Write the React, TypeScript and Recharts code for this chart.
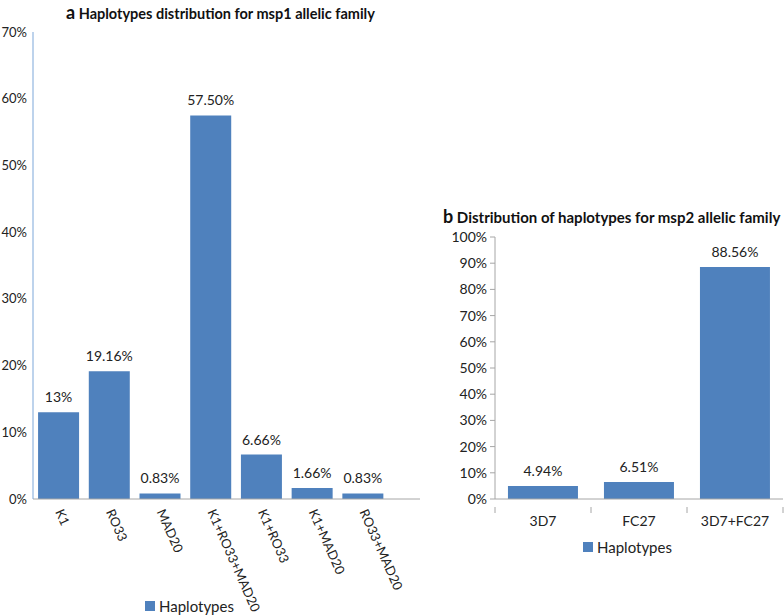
import { BarChart, Bar, XAxis, YAxis, LabelList } from 'recharts'

const msp1Families = ['K1', 'RO33', 'MAD20', 'K1+RO33+MAD20', 'K1+RO33', 'K1+MAD20', 'RO33+MAD20']
const msp1Values = [13, 19.16, 0.83, 57.5, 6.66, 1.66, 0.83]
const msp1Labels = ['13%', '19.16%', '0.83%', '57.50%', '6.66%', '1.66%', '0.83%']
const msp1Ticks = [0, 10, 20, 30, 40, 50, 60, 70]

const msp2Families = ['3D7', 'FC27', '3D7+FC27']
const msp2Values = [4.94, 6.51, 88.56]
const msp2Labels = ['4.94%', '6.51%', '88.56%']
const msp2Ticks = [0, 10, 20, 30, 40, 50, 60, 70, 80, 90, 100]

const seriesName = 'Haplotypes'
const BLUE = '#4F81BD'
const FONT = 'Lato, "Open Sans", sans-serif'

const msp1Data = msp1Families.map((f, i) => ({ family: f, value: msp1Values[i], label: msp1Labels[i] }))
const msp2Data = msp2Families.map((f, i) => ({ family: f, value: msp2Values[i], label: msp2Labels[i] }))

function RotatedTick({ x, y, payload }: any) {
  return (
    <text x={x} y={y} transform={`rotate(66, ${x}, ${y})`} textAnchor="start" dominantBaseline="central"
      fontSize={13} fill="#222" fontFamily={FONT} dx={3}>
      {payload.value}
    </text>
  )
}

function BoundaryTick({ x, y, payload, index, visibleTicksCount }: any) {
  const half = payload.offset ?? 48
  const last = index === visibleTicksCount - 1
  return (
    <g>
      <line x1={x - half} x2={x - half} y1={y} y2={y + 6} stroke="#a6a6a6" />
      {last && <line x1={x + half} x2={x + half} y1={y} y2={y + 6} stroke="#a6a6a6" />}
      <text x={x} y={y + 19} textAnchor="middle" fontSize={14} fill="#222" fontFamily={FONT}>
        {payload.value}
      </text>
    </g>
  )
}

function LegendBox({ left, top }: { left: number; top: number }) {
  return (
    <div style={{ position: 'absolute', left, top, display: 'flex', alignItems: 'center', fontFamily: FONT, fontSize: 15, color: '#222' }}>
      <span style={{ display: 'inline-block', width: 10, height: 10, background: BLUE, marginRight: 4 }} />
      {seriesName}
    </div>
  )
}

const pct = (v: number) => `${v}%`

export default function App() {
  return (
    <div style={{ position: 'absolute', left: 0, top: 0, width: 784, height: 616, background: '#fff', fontFamily: FONT }}>
      <div style={{ position: 'absolute', left: 66, top: 1, fontWeight: 700, fontSize: 14.5, color: '#111', whiteSpace: 'nowrap' }}>
        <span style={{ fontSize: 18 }}>a</span> Haplotypes distribution for msp1 allelic family
      </div>
      <div style={{ position: 'absolute', left: 443, top: 205, fontWeight: 700, fontSize: 15, color: '#111', whiteSpace: 'nowrap' }}>
        <span style={{ fontSize: 18 }}>b</span> Distribution of haplotypes for msp2 allelic family
      </div>

      <div style={{ position: 'absolute', left: 0, top: 0 }}>
        <BarChart width={420} height={616} data={msp1Data} barCategoryGap="10%"
          margin={{ top: 32, right: 0, bottom: 0, left: 0 }}>
          <XAxis dataKey="family" interval={0} tickLine={false} axisLine={{ stroke: '#a6a6a6' }}
            tick={<RotatedTick />} padding={{ left: 0, right: 32 }} height={117} />
          <YAxis domain={[0, 70]} ticks={msp1Ticks} tickFormatter={pct} width={33} tickLine={false}
            tickSize={5} tickMargin={1} axisLine={{ stroke: '#7DA7D9' }}
            tick={{ fontSize: 13, fill: '#222', fontFamily: FONT }} />
          <Bar dataKey="value" name={seriesName} fill={BLUE} isAnimationActive={false}>
            <LabelList dataKey="label" position="top" offset={10} fontSize={14} fill="#222" fontFamily={FONT} />
          </Bar>
        </BarChart>
      </div>
      <LegendBox left={145} top={597} />

      <div style={{ position: 'absolute', left: 440, top: 0 }}>
        <BarChart width={344} height={616} data={msp2Data} barCategoryGap="13.5%"
          margin={{ top: 237, right: 1, bottom: 0, left: 0 }}>
          <XAxis dataKey="family" interval={0} tickLine={false} axisLine={{ stroke: '#a6a6a6' }}
            tick={<BoundaryTick />} height={117} />
          <YAxis domain={[0, 100]} ticks={msp2Ticks} tickFormatter={pct} width={55}
            tickSize={5} tickMargin={3} axisLine={{ stroke: '#a6a6a6' }} tickLine={{ stroke: '#a6a6a6' }}
            tick={{ fontSize: 14, fill: '#222', fontFamily: FONT }} />
          <Bar dataKey="value" name={seriesName} fill={BLUE} isAnimationActive={false}>
            <LabelList dataKey="label" position="top" offset={10} fontSize={14} fill="#222" fontFamily={FONT} />
          </Bar>
        </BarChart>
      </div>
      <LegendBox left={583} top={538} />
    </div>
  )
}
